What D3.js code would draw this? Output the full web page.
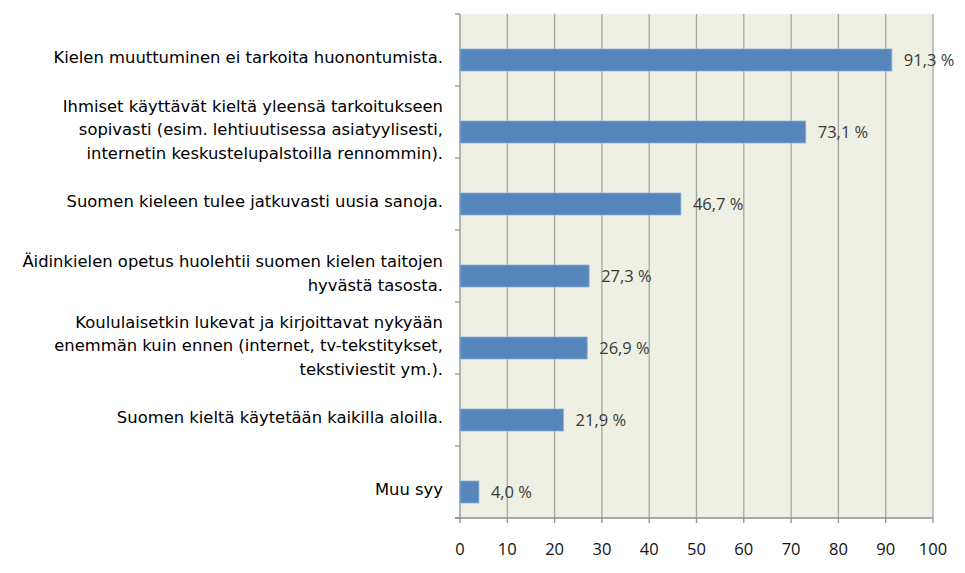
<!DOCTYPE html>
<html>
<head>
<meta charset="utf-8">
<script src="https://cdn.jsdelivr.net/npm/d3@7"></script>
<style>
  body { margin: 0; background: #fff; }
</style>
</head>
<body>
<div id="chart"></div>
<script>
// Chart data
const categories = [
  ["Kielen muuttuminen ei tarkoita huonontumista."],
  ["Ihmiset käyttävät kieltä yleensä tarkoitukseen", "sopivasti (esim. lehtiuutisessa asiatyylisesti,", "internetin keskustelupalstoilla rennommin)."],
  ["Suomen kieleen tulee jatkuvasti uusia sanoja."],
  ["Äidinkielen opetus huolehtii suomen kielen taitojen", "hyvästä tasosta."],
  ["Koululaisetkin lukevat ja kirjoittavat nykyään", "enemmän kuin ennen (internet, tv-tekstitykset,", "tekstiviestit ym.)."],
  ["Suomen kieltä käytetään kaikilla aloilla."],
  ["Muu syy"]
];
const values = [91.3, 73.1, 46.7, 27.3, 26.9, 21.9, 4.0];
const xTicks = [0, 10, 20, 30, 40, 50, 60, 70, 80, 90, 100];

(function(){
    const width = 965;
    const height = 573;
    const margin = { left: 460, right: 32, top: 14, bottom: 55 };

    const svg = d3.select("#chart")
        .append("svg")
        .attr("width", width)
        .attr("height", height);

    const x = d3.scaleLinear()
        .domain([0, 100])
        .range([margin.left, width - margin.right]);

    const y = d3.scaleBand()
        .domain(d3.range(categories.length))
        .range([margin.top, height - margin.bottom]);

    // Plot background
    svg.append("rect")
        .attr("x", x(0))
        .attr("y", y.range()[0])
        .attr("width", x(100) - x(0))
        .attr("height", y.range()[1] - y.range()[0])
        .style("fill", "#eef0e4");

    // Vertical gridlines
    svg.selectAll(".grid")
        .data(xTicks.slice(1))
        .enter()
        .append("line")
        .attr("x1", d => x(d))
        .attr("x2", d => x(d))
        .attr("y1", y.range()[0])
        .attr("y2", y.range()[1])
        .style("stroke", "#a6a6a0")
        .style("stroke-width", "1.3px");

    // Left axis line with ticks at band boundaries
    svg.append("line")
        .attr("x1", x(0)).attr("x2", x(0))
        .attr("y1", y.range()[0]).attr("y2", y.range()[1])
        .style("stroke", "#909090")
        .style("stroke-width", "1.3px");

    const boundaries = d3.range(categories.length + 1).map(i => y.range()[0] + i * y.step());
    svg.selectAll(".ytick")
        .data(boundaries)
        .enter()
        .append("line")
        .attr("x1", x(0) - 5).attr("x2", x(0))
        .attr("y1", d => d).attr("y2", d => d)
        .style("stroke", "#909090")
        .style("stroke-width", "1.3px");

    // Bottom axis
    svg.append("line")
        .attr("x1", x(0) - 5).attr("x2", x(100))
        .attr("y1", y.range()[1]).attr("y2", y.range()[1])
        .style("stroke", "#909090")
        .style("stroke-width", "1.3px");

    svg.selectAll(".xtick")
        .data(xTicks)
        .enter()
        .append("line")
        .attr("x1", d => x(d)).attr("x2", d => x(d))
        .attr("y1", y.range()[1]).attr("y2", y.range()[1] + 5)
        .style("stroke", "#909090")
        .style("stroke-width", "1.3px");

    svg.selectAll(".xlabel")
        .data(xTicks)
        .enter()
        .append("text")
        .attr("x", d => x(d))
        .attr("y", 555)
        .attr("text-anchor", "middle")
        .style("font-family", "'Open Sans', sans-serif")
        .style("font-size", "16.5px")
        .style("fill", "#111")
        .text(d => d);

    const barH = 22;
    const barCenter = i => y(i) + y.bandwidth() / 2 + 10;

    // Bars
    svg.selectAll(".bar")
        .data(values)
        .enter()
        .append("rect")
        .attr("x", x(0))
        .attr("y", (d, i) => barCenter(i) - barH / 2)
        .attr("width", d => x(d) - x(0))
        .attr("height", barH)
        .style("fill", "#5686bb")
        .style("stroke", "#8fb0d6")
        .style("stroke-width", "0.8px");

    // Value labels
    svg.selectAll(".value")
        .data(values)
        .enter()
        .append("text")
        .attr("x", d => x(d) + 12)
        .attr("y", (d, i) => barCenter(i) + 6)
        .style("font-family", "'Open Sans', sans-serif")
        .style("font-size", "16.5px")
        .style("fill", "#3a3a3a")
        .text(d => d.toFixed(1).replace(".", ",") + " %");

    // Category labels
    const lineH = 23.5;
    svg.selectAll(".cat")
        .data(categories)
        .enter()
        .append("text")
        .attr("text-anchor", "end")
        .style("font-family", "'DejaVu Sans', sans-serif")
        .style("font-size", "16.4px")
        .style("fill", "#000")
        .each(function(lines, i) {
            const t = d3.select(this);
            const c = barCenter(i) - 3;
            const start = c - (lines.length - 1) * lineH / 2;
            lines.forEach((ln, j) => {
                t.append("tspan")
                    .attr("x", 443)
                    .attr("y", start + j * lineH + 6)
                    .text(ln);
            });
        });
})();
</script>
</body>
</html>
